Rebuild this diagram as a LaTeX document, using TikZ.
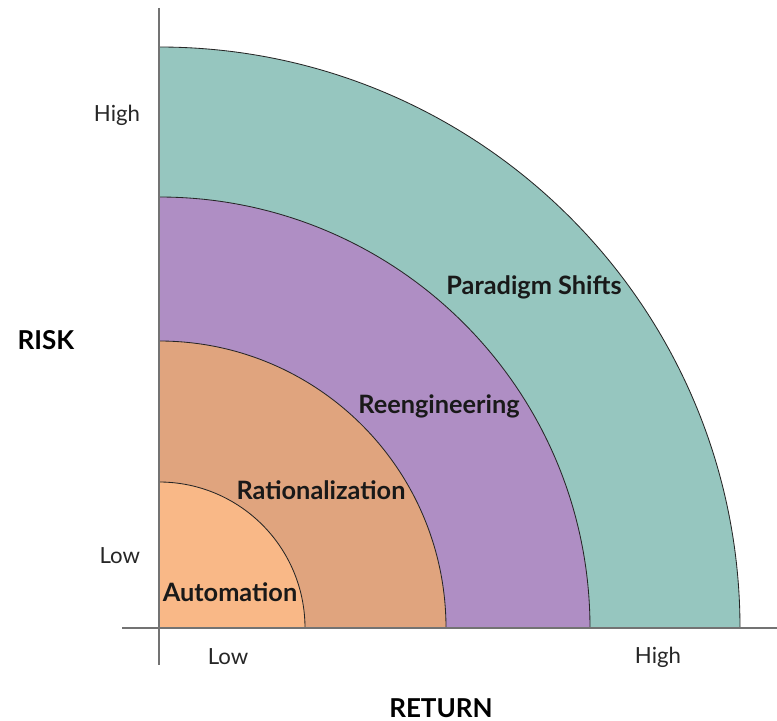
\documentclass[tikz,border=0pt]{standalone}
\usepackage{fontspec}
\setmainfont{Lato}
\usetikzlibrary{positioning}
\definecolor{autofill}{HTML}{F9B887}
\definecolor{ratfill}{HTML}{E0A47E}
\definecolor{reengfill}{HTML}{AF8EC4}
\definecolor{paradfill}{HTML}{96C6BF}
\begin{document}
\begin{tikzpicture}[x=0.025cm,y=-0.025cm,
	band/.style={draw=black!85,line width=0.6pt},
	axis/.style={draw=gray!90!black,line width=0.9pt},
	tick/.style={font=\fontsize{15.8}{18}\selectfont,text=black!85},
	bandlabel/.style={font=\bfseries\fontsize{18}{20}\selectfont,text=black!90},
	title/.style={font=\bfseries\fontsize{18.5}{20}\selectfont}]
	\useasboundingbox (0,0) rectangle (777,721);
	\coordinate (o) at (159,628);
	%% bands, outer first
	\filldraw[band,fill=paradfill] (o) -- ++(581,0) arc[start angle=0,end angle=-90,radius=581] -- cycle;
	\filldraw[band,fill=reengfill] (o) -- ++(431,0) arc[start angle=0,end angle=-90,radius=431] -- cycle;
	\filldraw[band,fill=ratfill] (o) -- ++(287,0) arc[start angle=0,end angle=-90,radius=287] -- cycle;
	\filldraw[band,fill=autofill] (o) -- ++(146,0) arc[start angle=0,end angle=-90,radius=146] -- cycle;
	%% axes
	\coordinate (ytop) at (159,8);
	\coordinate (ybot) at (159,665);
	\coordinate (xleft) at (122,628);
	\coordinate (xright) at (777,628);
	\draw[axis] (ytop) -- (ybot);
	\draw[axis] (xleft) -- (xright);
	%% band labels
	\node[bandlabel] (auto) at (230,592) {Automation};
	\node[bandlabel] (rat) at (321,490) {Rationalization};
	\node[bandlabel] (reeng) at (439,406) {Reengineering};
	\node[bandlabel] (parad) at (534,287) {Paradigm Shifts};
	%% axis labels
	\node[tick,anchor=east] (yhigh) at (145,115) {High};
	\node[tick,anchor=east] (ylow) at (145,556) {Low};
	\node[tick] (xlow) at (228,657) {Low};
	\node[tick] (xhigh) at (658,657) {High};
	\node[title] (risk) at (46,340) {RISK};
	\node[title,inner sep=1pt] (ret) at (441,708) {RETURN};
\end{tikzpicture}
\end{document}
